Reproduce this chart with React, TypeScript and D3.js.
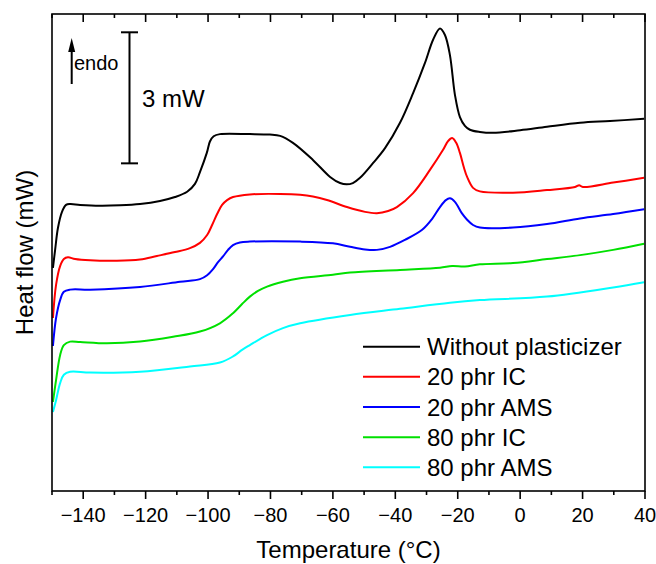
import React from "react";
import * as d3 from "d3";

// Temperature (°C) / heat flow (mW) pairs
const withoutPlasticizer: [number, number][] = [
  [-149.7, 5.11], [-149.0, 5.52], [-148.1, 6.02], [-146.8, 6.39], [-145.5, 6.55], [-144.2, 6.57],
  [-141.0, 6.55], [-134.6, 6.53], [-128.2, 6.54], [-121.8, 6.57], [-115.4, 6.64], [-110.6, 6.73],
  [-106.7, 6.85], [-104.2, 7.03], [-102.6, 7.3], [-100.4, 7.74], [-99.4, 8.0], [-98.2, 8.12],
  [-96.2, 8.17], [-86.6, 8.17], [-80.2, 8.16], [-76.9, 8.13], [-72.8, 7.97], [-66.4, 7.58],
  [-60.9, 7.19], [-57.7, 7.05], [-55.6, 7.02], [-53.6, 7.05], [-51.3, 7.17], [-47.1, 7.51],
  [-43.3, 7.85], [-38.5, 8.43], [-34.3, 9.11], [-30.5, 9.8], [-27.9, 10.33], [-25.7, 10.59],
  [-24.1, 10.44], [-22.5, 9.98], [-20.9, 9.07], [-19.3, 8.56], [-17.7, 8.36], [-16.1, 8.27],
  [-12.9, 8.22], [-8.7, 8.2], [0.0, 8.26], [8.6, 8.34], [19.2, 8.43], [28.8, 8.47], [39.7, 8.52],
];

const phr20IC: [number, number][] = [
  [-149.7, 3.96], [-148.7, 4.72], [-147.4, 5.15], [-146.2, 5.31], [-144.9, 5.35], [-142.6, 5.31],
  [-137.8, 5.28], [-129.2, 5.27], [-121.8, 5.3], [-116.4, 5.38], [-110.6, 5.47], [-105.8, 5.56],
  [-102.6, 5.68], [-100.3, 5.86], [-98.7, 6.09], [-97.1, 6.34], [-95.5, 6.55], [-93.9, 6.66],
  [-92.0, 6.73], [-86.6, 6.79], [-76.9, 6.8], [-70.5, 6.78], [-66.4, 6.74], [-61.9, 6.66],
  [-55.5, 6.5], [-49.7, 6.39], [-45.9, 6.36], [-42.3, 6.41], [-39.5, 6.5], [-34.3, 6.82],
  [-28.9, 7.35], [-24.7, 7.81], [-23.1, 8.01], [-21.8, 8.08], [-20.5, 7.97], [-19.3, 7.74],
  [-18.0, 7.4], [-17.0, 7.19], [-15.1, 6.94], [-12.9, 6.86], [-2.3, 6.83], [8.6, 6.89],
  [17.6, 6.96], [18.9, 7.0], [20.1, 6.96], [29.8, 7.06], [39.7, 7.17],
];

const phr20AMS: [number, number][] = [
  [-149.7, 3.32], [-148.7, 3.96], [-147.4, 4.37], [-146.2, 4.56], [-144.2, 4.61], [-137.8, 4.61],
  [-121.8, 4.67], [-109.0, 4.79], [-102.6, 4.85], [-100.3, 4.94], [-98.4, 5.08], [-96.8, 5.24],
  [-95.2, 5.37], [-93.6, 5.52], [-92.0, 5.63], [-89.8, 5.69], [-86.6, 5.71], [-70.5, 5.71],
  [-60.0, 5.67], [-54.5, 5.59], [-49.7, 5.53], [-45.9, 5.52], [-41.7, 5.59], [-36.9, 5.75],
  [-31.4, 5.98], [-28.2, 6.23], [-25.7, 6.5], [-23.8, 6.66], [-22.5, 6.7], [-20.9, 6.62],
  [-18.7, 6.36], [-17.0, 6.21], [-15.1, 6.09], [-12.9, 6.03], [-2.3, 6.03], [8.6, 6.11],
  [19.2, 6.24], [29.8, 6.34], [39.7, 6.45],
];

const phr80IC: [number, number][] = [
  [-149.7, 2.04], [-148.7, 2.54], [-147.4, 3.11], [-146.2, 3.34], [-144.2, 3.42], [-141.0, 3.41],
  [-132.4, 3.38], [-121.8, 3.42], [-111.2, 3.53], [-102.6, 3.65], [-96.2, 3.84], [-92.0, 4.07],
  [-89.1, 4.28], [-86.6, 4.45], [-84.0, 4.58], [-81.1, 4.68], [-76.0, 4.79], [-70.5, 4.87],
  [-60.0, 4.95], [-54.5, 5.0], [-38.5, 5.06], [-25.7, 5.11], [-21.8, 5.15], [-17.7, 5.14],
  [-12.9, 5.19], [-2.3, 5.22], [8.6, 5.31], [19.2, 5.4], [29.8, 5.52], [39.7, 5.66],
];

const phr80AMS: [number, number][] = [
  [-149.7, 1.81], [-148.7, 2.08], [-147.4, 2.47], [-146.2, 2.66], [-144.2, 2.73], [-137.8, 2.71],
  [-121.8, 2.73], [-105.8, 2.85], [-96.2, 2.94], [-92.0, 3.08], [-89.1, 3.23], [-86.6, 3.34],
  [-81.1, 3.57], [-76.0, 3.73], [-70.5, 3.84], [-54.5, 4.03], [-38.5, 4.17], [-22.5, 4.31],
  [-12.9, 4.37], [8.6, 4.45], [29.8, 4.66], [39.7, 4.78],
];

const seriesNames = ["Without plasticizer", "20 phr IC", "20 phr AMS", "80 phr IC", "80 phr AMS"];
const seriesColors = ["#000000", "#ff0000", "#0000ff", "#00e000", "#00ffff"];
const seriesData = [withoutPlasticizer, phr20IC, phr20AMS, phr80IC, phr80AMS];

const xMajorTicks = [-140, -120, -100, -80, -60, -40, -20, 0, 20, 40];
const xMinorTicks = [-150, -130, -110, -90, -70, -50, -30, -10, 10, 30];
const scaleBarMW = 3;

const FONT = "'Liberation Sans', Arial, sans-serif";

export default function App() {
  const left = 52, right = 645, top = 14, bottom = 491;
  const x = d3.scaleLinear().domain([-150, 40]).range([left, right]);
  const y = d3.scaleLinear().domain([0, 10.92]).range([bottom, top]);
  const line = d3
    .line<[number, number]>()
    .x((d) => x(d[0]))
    .y((d) => y(d[1]))
    .curve(d3.curveCatmullRom.alpha(0.5));
  const fmt = d3.format("d");

  const barX = 129.5;
  const barTop = 32.3;
  const barBottom = barTop + (y(0) - y(scaleBarMW));

  return (
    <svg
      width={656}
      height={564}
      style={{ position: "absolute", left: 0, top: 0, background: "#fff" }}
      fontFamily={FONT}
    >
      <rect x={0} y={0} width={656} height={564} fill="#fff" />
      <defs>
        <clipPath id="plotclip">
          <rect x={left} y={top} width={right - left} height={bottom - top} />
        </clipPath>
      </defs>

      {/* curves */}
      <g clipPath="url(#plotclip)">
        {seriesData.map((d, i) => (
          <path
            key={i}
            d={line(d) || ""}
            fill="none"
            stroke={seriesColors[i]}
            strokeWidth={2}
            strokeLinejoin="round"
          />
        ))}
      </g>

      {/* frame */}
      <rect
        x={left}
        y={top}
        width={right - left}
        height={bottom - top}
        fill="none"
        stroke="#000"
        strokeWidth={1.6}
      />

      {/* bottom ticks (outward) */}
      {xMajorTicks.map((t) => (
        <line key={"bM" + t} x1={x(t)} x2={x(t)} y1={bottom} y2={bottom + 8} stroke="#000" strokeWidth={1.6} />
      ))}
      {xMinorTicks.map((t) => (
        <line key={"bm" + t} x1={x(t)} x2={x(t)} y1={bottom} y2={bottom + 4} stroke="#000" strokeWidth={1.6} />
      ))}
      {/* top ticks (inward) */}
      {xMajorTicks.map((t) => (
        <line key={"tM" + t} x1={x(t)} x2={x(t)} y1={top} y2={top + 8} stroke="#000" strokeWidth={1.6} />
      ))}
      {xMinorTicks.map((t) => (
        <line key={"tm" + t} x1={x(t)} x2={x(t)} y1={top} y2={top + 4} stroke="#000" strokeWidth={1.6} />
      ))}

      {/* tick labels */}
      {xMajorTicks.map((t) => (
        <text key={"l" + t} x={x(t)} y={522} fontSize={20} textAnchor="middle" fill="#000">
          {fmt(t)}
        </text>
      ))}

      {/* axis titles */}
      <text x={(left + right) / 2} y={558} fontSize={24} textAnchor="middle" fill="#000">
        Temperature (°C)
      </text>
      <text
        transform={`translate(33, ${(top + bottom) / 2}) rotate(-90)`}
        fontSize={24}
        textAnchor="middle"
        fill="#000"
      >
        Heat flow (mW)
      </text>

      {/* endo arrow */}
      <line x1={71.7} x2={71.7} y1={84} y2={50} stroke="#000" strokeWidth={2} />
      <path d={`M71.7,38 L68.2,52 L75.2,52 Z`} fill="#000" />
      <text x={74} y={70} fontSize={20} fill="#000">
        endo
      </text>

      {/* scale bar */}
      <line x1={barX} x2={barX} y1={barTop} y2={barBottom} stroke="#000" strokeWidth={2} />
      <line x1={barX - 8.5} x2={barX + 8.5} y1={barTop} y2={barTop} stroke="#000" strokeWidth={2} />
      <line x1={barX - 8.5} x2={barX + 8.5} y1={barBottom} y2={barBottom} stroke="#000" strokeWidth={2} />
      <text x={142} y={106.5} fontSize={24} fill="#000">
        {scaleBarMW} mW
      </text>

      {/* legend */}
      {seriesNames.map((name, i) => {
        const cy = 346.7 + i * 30.15;
        return (
          <g key={name}>
            <line x1={363} x2={420} y1={cy} y2={cy} stroke={seriesColors[i]} strokeWidth={2} />
            <text x={427} y={cy + 8.5} fontSize={24} fill="#000">
              {name}
            </text>
          </g>
        );
      })}
    </svg>
  );
}
